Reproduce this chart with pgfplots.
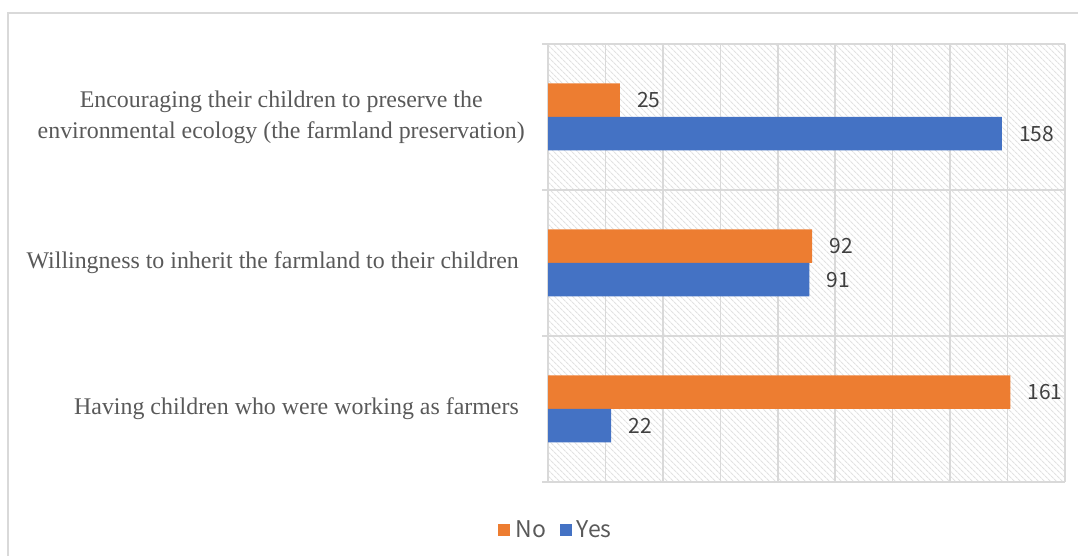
\documentclass[border=0pt]{standalone}
\usepackage{pgfplots}
\pgfplotsset{compat=1.18}
\usepackage{fontspec}
\setmainfont{Liberation Serif}
\newfontfamily\lblfont{Noto Sans CJK JP}
\usetikzlibrary{patterns.meta}
\definecolor{cNo}{HTML}{ED7D31}
\definecolor{cYes}{HTML}{4472C4}
\definecolor{gridc}{HTML}{D9D9D9}
\definecolor{hatchc}{HTML}{E2E2E2}
\definecolor{txt}{HTML}{595959}
\definecolor{lbl}{HTML}{404040}
\begin{document}
\begin{tikzpicture}[x=1pt,y=1pt]
\path[use as bounding box] (0,0) rectangle (1078,556);
\draw[gridc, line width=1.5pt] (8,-5) -- (8,543) -- (1090,543);
\begin{axis}[
  at={(548pt,74pt)}, anchor=south west,
  width=517pt, height=438pt, scale only axis,
  xmin=0, xmax=180, ymin=-0.5, ymax=2.5,
  xbar, bar width=33.5pt,
  axis background/.style={pattern={Lines[angle=-45,distance=4pt,line width=1.2pt]}, pattern color=hatchc},
  axis line style={draw=none},
  xtick={0,20,...,180}, xticklabels={}, xmajorgrids,
  xtick style={draw=none},
  ytick={-0.5,0.5,1.5,2.5}, yticklabels={}, ymajorgrids,
  ytick pos=left, tick align=outside, major tick length=6pt,
  ytick style={gridc, line width=1.5pt},
  major grid style={gridc, line width=1.5pt},
  extra y ticks={0,1,2},
  extra y tick labels={Having children who were working as farmers, Willingness to inherit the farmland to their children, {Encouraging their children to preserve the\hspace*{-6pt}\\environmental ecology (the farmland preservation)\hspace*{-6pt}}},
  extra y tick style={ymajorgrids=false, tick style={draw=none},
    yticklabel style={align=center, inner sep=0pt, xshift=-23pt, text=txt, font=\fontsize{23.9}{31}\selectfont}},
  nodes near coords,
  /pgf/number format/assume math mode=true,
  every node near coord/.append style={anchor=west, inner sep=0pt, xshift=17pt, text=lbl, font=\lblfont\fontsize{21}{21}\selectfont},
  legend style={at={(0.0155,-0.11)}, anchor=center, legend columns=2, draw=none, fill=none,
    font=\lblfont\fontsize{23}{23}\selectfont, text=txt,
    /tikz/every even column/.append style={column sep=12pt}},
]
\addplot[draw=none, fill=cNo, bar shift=16.75pt,
  legend image code/.code={\fill[cNo] (0pt,-6pt) rectangle (12pt,6pt); \path (15pt,0pt);}]
  coordinates {(161,0) (92,1) (25,2)};
\addplot[draw=none, fill=cYes, bar shift=-16.75pt,
  legend image code/.code={\fill[cYes] (0pt,-6pt) rectangle (12pt,6pt); \path (15pt,0pt);}]
  coordinates {(22,0) (91,1) (158,2)};
\legend{No, Yes}
\end{axis}
\end{tikzpicture}
\end{document}
